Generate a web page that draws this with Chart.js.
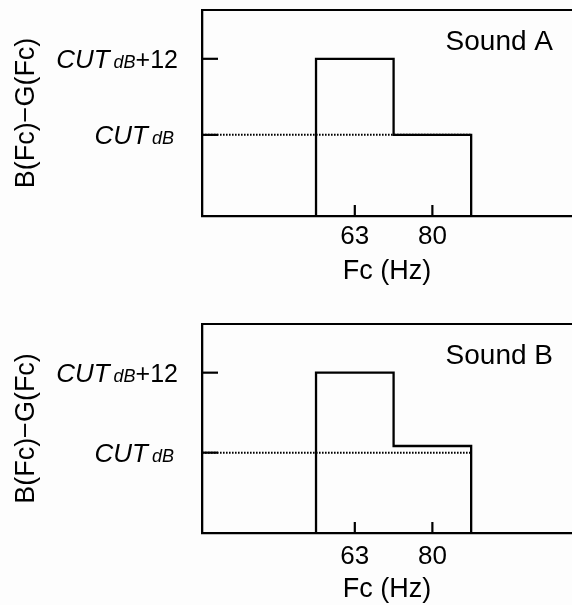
<!DOCTYPE html>
<html>
<head>
<meta charset="utf-8">
<script src="https://cdn.jsdelivr.net/npm/chart.js@4.4.1/dist/chart.umd.min.js"></script>
<style>
  html, body { margin: 0; padding: 0; background: #fdfdfd; }
  canvas { display: block; }
</style>
</head>
<body>
<canvas id="soundA" width="572" height="302"></canvas>
<canvas id="soundB" width="572" height="303"></canvas>
<script>
// 1/3 octave bands shown on the x axis
const bands = ['63', '80'];
const bandIdx = [0, 1];
// B(Fc)-G(Fc) relative to CUT dB, one value per band
const soundA = [12, 0];
const soundB = [12, 1];
// y ticks (relative to CUT dB) and their labels: [italic, italic small, upright]
const cutTicks = [0, 12];
const cutLabels = [['CUT', 'dB', ''], ['CUT', 'dB', '+12']];

const FAMILY = '"Liberation Sans", Arial, sans-serif';
Chart.defaults.font.family = FAMILY;
Chart.defaults.color = '#000';

const X_MIN = -1.97, X_MAX = 2.8;

// stepped outline of the band levels, closed down to the axis
function outline(vals, base) {
  const pts = [{x: bandIdx[0] - 0.5, y: base}];
  vals.forEach((v, i) => {
    pts.push({x: bandIdx[i] - 0.5, y: v}, {x: bandIdx[i] + 0.5, y: v});
  });
  pts.push({x: bandIdx[bandIdx.length - 1] + 0.5, y: base});
  return pts;
}

const decor = {
  id: 'decor',
  afterDatasetsDraw(chart, args, opts) {
    const {ctx, chartArea: a, scales: {x, y}} = chart;
    ctx.save();
    ctx.strokeStyle = '#000';
    ctx.fillStyle = '#000';
    ctx.lineWidth = 2.2;
    // top frame line
    ctx.beginPath();
    ctx.moveTo(a.left, a.top);
    ctx.lineTo(a.right, a.top);
    ctx.stroke();
    // inward tick marks
    cutTicks.forEach(v => {
      const py = y.getPixelForValue(v);
      ctx.beginPath();
      ctx.moveTo(a.left, py);
      ctx.lineTo(a.left + 16, py);
      ctx.stroke();
    });
    bandIdx.forEach(v => {
      const px = x.getPixelForValue(v);
      ctx.beginPath();
      ctx.moveTo(px, a.bottom);
      ctx.lineTo(px, a.bottom - 11);
      ctx.stroke();
    });
    // y tick labels with mixed styles
    ctx.textBaseline = 'alphabetic';
    ctx.textAlign = 'right';
    cutTicks.forEach((v, i) => {
      const [main, sub, tail] = cutLabels[i];
      const py = y.getPixelForValue(v) + 9;
      let px = a.left - (tail ? 24 : 28);
      ctx.font = '25px ' + FAMILY;
      ctx.fillText(tail, px, py);
      px -= ctx.measureText(tail).width;
      ctx.font = 'italic 18px ' + FAMILY;
      ctx.fillText(sub, px, py);
      px -= ctx.measureText(sub).width + 4;
      ctx.font = 'italic 26px ' + FAMILY;
      ctx.fillText(main, px, py);
    });
    // panel label
    ctx.font = '28px ' + FAMILY;
    ctx.fillText(opts.label, a.right - 19, a.top + 39.5);
    ctx.restore();
  }
};

function makeChart(id, label, vals, yMin, yMax, pad, xHeight, tickPad) {
  new Chart(document.getElementById(id), {
    type: 'line',
    data: {
      datasets: [
        {
          data: outline(vals, yMin),
          borderColor: '#000',
          borderWidth: 2.3,
          pointRadius: 0,
          fill: false
        },
        {
          data: [{x: X_MIN, y: 0}, {x: bandIdx[bandIdx.length - 1] + 0.5, y: 0}],
          borderColor: '#000',
          borderWidth: 2,
          borderDash: [1.6, 1.4],
          pointRadius: 0,
          fill: false
        }
      ]
    },
    options: {
      responsive: false,
      animation: false,
      layout: {padding: pad},
      plugins: {
        legend: {display: false},
        tooltip: {enabled: false},
        decor: {label: label}
      },
      scales: {
        x: {
          type: 'linear',
          min: X_MIN,
          max: X_MAX,
          grid: {display: false, drawTicks: false},
          border: {display: true, color: '#000', width: 2.3},
          afterBuildTicks: s => { s.ticks = bandIdx.map(v => ({value: v})); },
          ticks: {
            callback: (v, i) => bands[i],
            font: {size: 26, lineHeight: 1},
            padding: tickPad,
            maxRotation: 0,
            autoSkip: false
          },
          title: {display: true, text: 'Fc (Hz)', font: {size: 27, lineHeight: 1}, padding: 0},
          afterFit: s => { s.height = xHeight; }
        },
        y: {
          min: yMin,
          max: yMax,
          grid: {display: false, drawTicks: false},
          border: {display: true, color: '#000', width: 2.3},
          ticks: {display: false},
          title: {
            display: true,
            text: 'B(Fc)\u2212G(Fc)',
            font: {size: 27, lineHeight: 1},
            padding: {top: 13, bottom: 0}
          },
          afterFit: s => { s.width = 202; }
        }
      }
    },
    plugins: [decor]
  });
}

makeChart('soundA', 'Sound A', soundA, -12.8, 19.7,
  {top: 10, bottom: 17, left: 0, right: 0}, 69, 8);
makeChart('soundB', 'Sound B', soundB, -12.05, 19.3,
  {top: 22, bottom: 2, left: 0, right: 0}, 70, 11);
</script>
</body>
</html>
